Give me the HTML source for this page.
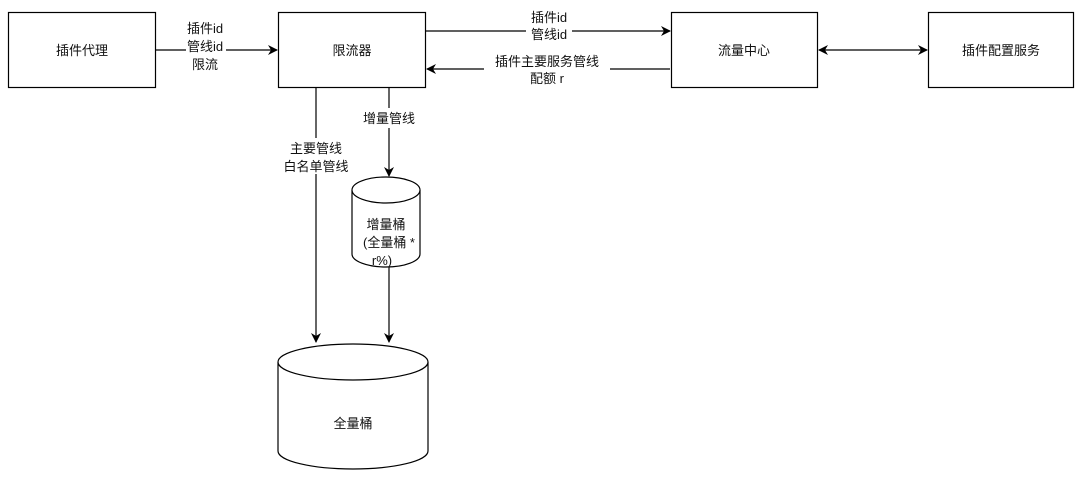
<!DOCTYPE html>
<html><head><meta charset="utf-8"><style>
html,body{margin:0;padding:0;background:#fff;}
svg text{font-family:"Liberation Sans","Noto Sans CJK SC",sans-serif;font-size:13px;fill:#111;}
</style></head><body>
<svg width="1080" height="478" viewBox="0 0 1080 478" xmlns="http://www.w3.org/2000/svg">
<defs>
<marker id="a" markerWidth="10" markerHeight="10" refX="9" refY="5" orient="auto" markerUnits="userSpaceOnUse">
<path d="M0,0 L10,5 L0,10 L3,5 Z" fill="#000"/></marker>
<marker id="b" markerWidth="10" markerHeight="10" refX="1" refY="5" orient="auto" markerUnits="userSpaceOnUse">
<path d="M10,0 L0,5 L10,10 L7,5 Z" fill="#000"/></marker>
</defs>
<g fill="#fff" stroke="#000" stroke-width="1.2">
<rect x="8.5" y="12.5" width="147" height="75"/>
<rect x="278.5" y="12.5" width="147" height="75"/>
<rect x="671.5" y="12.5" width="146" height="75"/>
<rect x="928.5" y="12.5" width="145" height="75"/>
</g>
<g text-anchor="middle">
<text x="82" y="55">插件代理</text>
<text x="352" y="55">限流器</text>
<text x="744" y="55">流量中心</text>
<text x="1001" y="55">插件配置服务</text>
</g>
<g stroke="#000" stroke-width="1.2" fill="none">
<line x1="156" y1="50" x2="277" y2="50" marker-end="url(#a)"/>
<line x1="426" y1="31" x2="670" y2="31" marker-end="url(#a)"/>
<line x1="670" y1="69" x2="427" y2="69" marker-end="url(#a)"/>
<line x1="819" y1="50" x2="927" y2="50" marker-end="url(#a)" marker-start="url(#b)"/>
<line x1="316" y1="88" x2="316" y2="342" marker-end="url(#a)"/>
<line x1="389" y1="88" x2="389" y2="176" marker-end="url(#a)"/>
<line x1="389" y1="267" x2="389" y2="342" marker-end="url(#a)"/>
</g>
<g fill="#fff">
<rect x="186" y="16" width="40" height="54"/>
<rect x="526" y="10" width="46" height="36"/>
<rect x="484" y="53" width="126" height="34"/>
<rect x="360" y="108" width="58" height="20"/>
<rect x="280" y="138" width="72" height="36"/>
</g>
<g text-anchor="middle">
<text x="205" y="33">插件id</text>
<text x="205" y="51">管线id</text>
<text x="205" y="69">限流</text>
<text x="549" y="22">插件id</text>
<text x="549" y="39">管线id</text>
<text x="547" y="66">插件主要服务管线</text>
<text x="547" y="83">配额 r</text>
<text x="389" y="123">增量管线</text>
<text x="316" y="153">主要管线</text>
<text x="316" y="171">白名单管线</text>
</g>
<g fill="#fff" stroke="#000" stroke-width="1.2">
<path d="M352,190 A34,13 0 0 1 420,190 L420,254 A34,13 0 0 1 352,254 Z"/>
<path d="M352,190 A34,13 0 0 0 420,190"/>
<path d="M278,362 A75,18 0 0 1 428,362 L428,451 A75,18 0 0 1 278,451 Z"/>
<path d="M278,362 A75,18 0 0 0 428,362"/>
</g>
<g text-anchor="middle">
<text x="386" y="229">增量桶</text>
<text x="389" y="247">(全量桶 *</text>
<text x="382" y="265">r%)</text>
<text x="353" y="428">全量桶</text>
</g>
</svg>
</body></html>
